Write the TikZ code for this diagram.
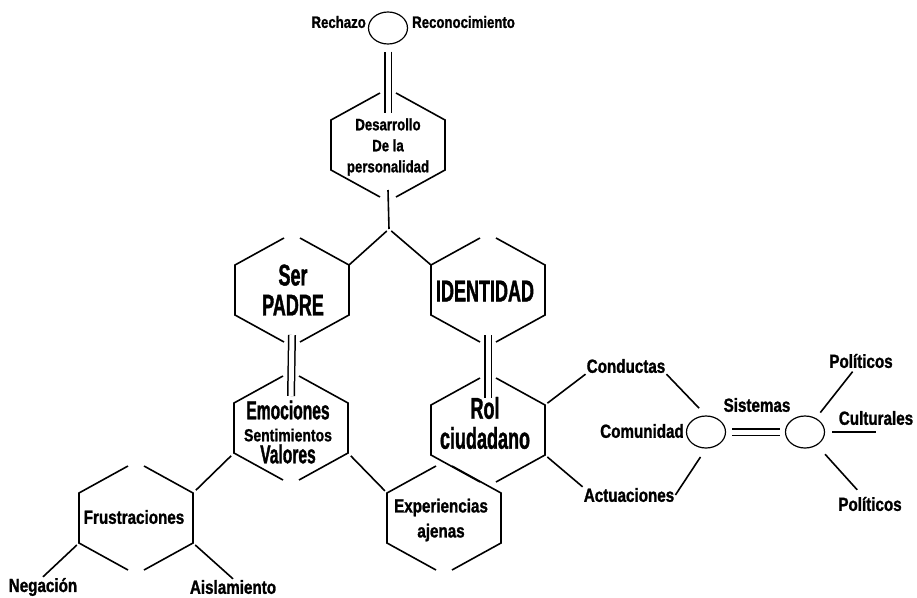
\documentclass[tikz,border=0pt]{standalone}
\usepackage{fontspec}
\setmainfont{Liberation Sans}[FakeStretch=0.8, BoldFeatures={FakeBold=1.2}]
\newfontfamily\bigfont{Liberation Sans}[FakeStretch=0.6, BoldFeatures={FakeBold=1.2}]
\usetikzlibrary{shapes.geometric}
\newcommand\tightlines{\lineskiplimit=-10pt\relax}

\tikzset{
  pics/hexa/.style={code={
    \coordinate (-tl) at (-57,-25);
    \coordinate (-tr) at (57,-25);
    \coordinate (-bl) at (-57,25);
    \coordinate (-br) at (57,25);
    \coordinate (-n) at (0,-32);
    \coordinate (-s) at (0,45);
    \draw[hexline] (-8,-52) -- (-57,-25) -- (-57,25) -- (-8,52);
    \draw[hexline] (8,-52) -- (57,-25) -- (57,25) -- (8,52);
  }}
}

\begin{document}
\begin{tikzpicture}[x=1pt, y=-1pt,
    hexline/.style={line width=1.6pt, line join=miter},
    conn/.style={line width=1.6pt},
    dbl/.style={double, double distance=5pt, line width=1.5pt},
    oval/.style={draw, ellipse, line width=1.2pt, minimum width=39pt,
                 minimum height=32pt, inner sep=0pt},
    lbl/.style={font=\bfseries\fontsize{19}{25}\selectfont, inner sep=1pt, align=center},
    sml/.style={font=\bfseries\fontsize{16.5}{21}\selectfont, inner sep=1pt, align=center},
    big/.style={font=\bigfont\bfseries\fontsize{30}{30}\selectfont, inner sep=1pt, align=center}
  ]
  \fill[white] (0,0) rectangle (917,597);
  \useasboundingbox (0,0) rectangle (917,597);

  \node[oval] (recon) at (388,28) {};
  \node[sml, anchor=east] (rechazo) at (367,22) {Rechazo};
  \node[sml, anchor=west] (reconoc) at (411,22) {Reconocimiento};

  \pic (des) at (388,145) {hexa};
  \node[sml] (destxt) at (388,147) {Desarrollo\\De la\\personalidad};
  \pic (ser) at (292,290) {hexa};
  \node[big] (sertxt) at (293,290) {Ser\\PADRE};
  \pic (ident) at (488,290) {hexa};
  \node[big] (identtxt) at (485,291) {IDENTIDAD};
  \pic (emo) at (291,428) {hexa};
  \node[big, font=\bigfont\bfseries\fontsize{26}{22}\selectfont\tightlines]
    (emotxt) at (288,432)
    {Emociones\\{\rmfamily\bfseries\fontsize{17.5}{22}\selectfont Sentimientos}\\Valores};
  \pic (rol) at (488,430) {hexa};
  \node[big] (roltxt) at (485,423) {Rol\\ciudadano};
  \pic (frus) at (136,518) {hexa};
  \node[lbl] (frustxt) at (134,517) {Frustraciones};
  \pic (exp) at (444,518) {hexa};
  \node[lbl] (exptxt) at (441,520) {Experiencias\\ajenas};

  \node[lbl] (neg) at (43,587) {Negación};
  \node[lbl] (aisl) at (233,587) {Aislamiento};
  \node[lbl] (cond) at (626,366) {Conductas};
  \node[lbl] (act) at (629,495) {Actuaciones};
  \node[oval] (comE) at (706,432) {};
  \node[lbl] (com) at (642,431) {Comunidad};
  \node[oval] (sysE) at (805,432) {};
  \node[lbl] (sis) at (757,405) {Sistemas};
  \node[lbl] (pol1) at (861,361) {Políticos};
  \node[lbl] (cul) at (876,418) {Culturales};
  \node[lbl] (pol2) at (870,504) {Políticos};

  \coordinate (fork) at (389,229);
  \draw[dbl, shorten <=7pt] (recon.south) -- (des-n);
  \draw[conn] (des-s) -- (fork);
  \draw[conn, shorten <=3pt] (fork) -- (ser-tr);
  \draw[conn, shorten <=3pt] (fork) -- (ident-tl);
  \draw[dbl] (ser-s) -- (emo-n);
  \draw[dbl] (ident-s) -- (rol-n);
  \draw[conn, shorten <=4pt, shorten >=4pt] (emo-bl) -- (frus-tr);
  \draw[conn, shorten <=4pt, shorten >=3pt] (emo-br) -- (exp-tl);
  \draw[conn, shorten <=3pt] (frus-bl) -- (neg.north);
  \draw[conn, shorten <=3pt] (frus-br) -- (aisl.north);
  \draw[conn, shorten <=3pt] (rol-tr) -- (cond.south west);
  \draw[conn, shorten <=3pt] (rol-br) -- (act.north west);
  \draw[conn, shorten >=10pt] (cond.south east) -- (comE.north);
  \draw[conn, shorten >=10pt] (act.east) -- (comE.south);
  \draw[dbl, shorten <=6pt, shorten >=5pt] (comE) -- (sysE);
  \draw[conn, shorten <=7pt, shorten >=3pt] (sysE) -- (pol1);
  \draw[conn, shorten <=7pt] (sysE.east) -- (sysE.east -| cul.south);
  \draw[conn, shorten <=12pt, shorten >=8pt] (sysE) -- (pol2);
\end{tikzpicture}
\end{document}
